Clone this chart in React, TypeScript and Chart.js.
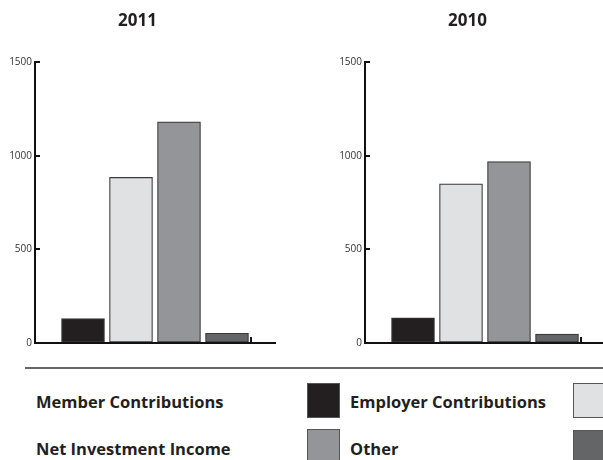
import React, { useEffect, useRef } from "react";
import { Chart, registerables } from "chart.js";

Chart.register(...registerables);

const categories = ["Member Contributions", "Employer Contributions", "Net Investment Income", "Other"];
const values2011 = [130, 884, 1180, 52];
const values2010 = [135, 850, 968, 47];
const panelTitles = ["2011", "2010"];
const yTicks = [0, 500, 1000, 1500];
const barColors = ["#231f20", "#e0e1e3", "#949599", "#646567"];

const FONT = "'Open Sans', 'DejaVu Sans', sans-serif";
const TEXT = "#231f20";
const CANVAS_H = 357;

function makeConfig(title: string, values: number[], padRight: number): any {
  // padded with empty slots at both ends so the axis runs a half step beyond the bars
  const labels = ["", ...categories, ""];
  const data = [null, ...values, null];
  const colors = ["transparent", ...barColors, "transparent"];
  return {
    type: "bar",
    data: {
      labels,
      datasets: [
        {
          data,
          backgroundColor: colors,
          borderColor: "#3a3a3a",
          borderWidth: 1.2,
          borderSkipped: false,
          barThickness: 43,
        },
      ],
    },
    options: {
      animation: false,
      responsive: false,
      maintainAspectRatio: false,
      layout: { padding: { left: 0, right: padRight, top: 0, bottom: 8 } },
      plugins: {
        legend: { display: false },
        tooltip: { enabled: false },
        title: {
          display: true,
          text: title,
          color: TEXT,
          font: { family: FONT, size: 17, weight: "bold", lineHeight: 1.2 },
          padding: { top: 11, bottom: 30.6 },
        },
      },
      scales: {
        x: {
          type: "category",
          offset: false,
          ticks: { display: false },
          grid: {
            drawOnChartArea: false,
            drawTicks: true,
            tickLength: -6,
            lineWidth: 2,
            color: (ctx: any) => (ctx.index === labels.length - 1 ? "#111" : "rgba(0,0,0,0)"),
          },
          border: { display: true, color: "#111", width: 2 },
          afterFit: (s: any) => {
            s.height = 0;
          },
        },
        y: {
          min: 0,
          max: 1500,
          afterBuildTicks: (s: any) => {
            s.ticks = yTicks.map((v) => ({ value: v }));
          },
          ticks: {
            color: "#333",
            padding: 8,
            font: { family: FONT, size: 10 },
            callback: (v: any) => String(v),
          },
          grid: {
            drawOnChartArea: false,
            drawTicks: true,
            tickLength: -5,
            lineWidth: 2,
            color: "#111",
          },
          border: { display: true, color: "#111", width: 2 },
          afterFit: (s: any) => {
            s.width = 35;
          },
        },
      },
    },
  };
}

function Panel(props: { title: string; values: number[]; left: number; width: number; padRight: number }) {
  const ref = useRef<HTMLCanvasElement | null>(null);
  useEffect(() => {
    if (!ref.current) return;
    const chart = new Chart(ref.current, makeConfig(props.title, props.values, props.padRight));
    return () => chart.destroy();
  }, []);
  return (
    <canvas
      ref={ref}
      width={props.width}
      height={CANVAS_H}
      style={{ position: "absolute", left: props.left, top: 0, width: props.width, height: CANVAS_H }}
    />
  );
}

const textStyle: React.CSSProperties = {
  position: "absolute",
  fontFamily: FONT,
  fontWeight: 700,
  fontSize: 16.5,
  lineHeight: "17px",
  color: TEXT,
  whiteSpace: "nowrap",
};

function Swatch(props: { left: number; top: number; color: string }) {
  return (
    <div
      style={{
        position: "absolute",
        left: props.left,
        top: props.top,
        width: 33,
        height: 35,
        boxSizing: "border-box",
        background: props.color,
        border: "1px solid #555",
      }}
    />
  );
}

export default function App() {
  useEffect(() => {
    document.body.style.margin = "0";
  }, []);
  const legendPos = [
    { textLeft: 36, textTop: 393, swLeft: 307, swTop: 383 },
    { textLeft: 350, textTop: 393, swLeft: 573, swTop: 383 },
    { textLeft: 36, textTop: 440, swLeft: 307, swTop: 429 },
    { textLeft: 350, textTop: 440, swLeft: 573, swTop: 430 },
  ];
  return (
    <div
      style={{
        position: "fixed",
        left: 0,
        top: 0,
        width: 603,
        height: 460,
        overflow: "hidden",
        background: "#fff",
      }}
    >
      <Panel title={panelTitles[0]} values={values2011} left={0} width={332} padRight={57} />
      <Panel title={panelTitles[1]} values={values2010} left={330} width={313} padRight={38} />
      <div style={{ position: "absolute", left: 25, top: 367, width: 600, height: 1.5, background: "#666" }} />
      {categories.map((c, i) => (
        <React.Fragment key={c}>
          <div style={{ ...textStyle, left: legendPos[i].textLeft, top: legendPos[i].textTop }}>{c}</div>
          <Swatch left={legendPos[i].swLeft} top={legendPos[i].swTop} color={barColors[i]} />
        </React.Fragment>
      ))}
    </div>
  );
}
